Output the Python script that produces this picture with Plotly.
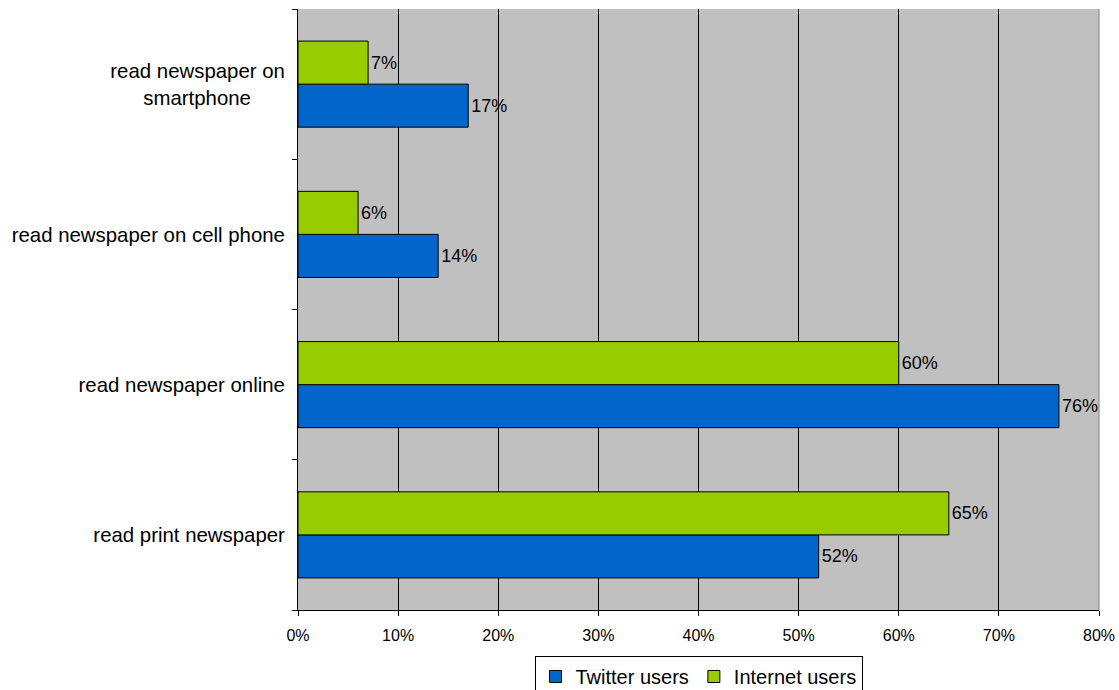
import plotly.graph_objects as go

categories = ["read print newspaper", "read newspaper online",
              "read newspaper on cell phone", "read newspaper on<br>smartphone"]
twitter = [52, 76, 14, 17]
internet = [65, 60, 6, 7]
x_ticks = [0, 10, 20, 30, 40, 50, 60, 70, 80]

FAM = "Liberation Sans, Arial, sans-serif"
label_font = dict(family=FAM, size=18, color="black")


def centered(label):
    # pad shorter lines so multi-line tick labels look centred
    lines = label.split("<br>")
    if len(lines) == 1:
        return label
    longest = max(len(l) for l in lines)
    out = []
    for l in lines:
        pad = int(round((longest - len(l)) * 0.9))
        out.append(l + "\u00a0" * pad)
    return "<br>".join(out)


fig = go.Figure()
fig.add_trace(go.Bar(
    y=categories, x=twitter, orientation="h", name="Twitter users",
    marker=dict(color="#0066CC", line=dict(color="black", width=1)),
    text=[f"{v}%" for v in twitter], textposition="outside",
    textfont=label_font, cliponaxis=False, constraintext="none"))
fig.add_trace(go.Bar(
    y=categories, x=internet, orientation="h", name="Internet users",
    marker=dict(color="#99CC00", line=dict(color="black", width=1)),
    text=[f"{v}%" for v in internet], textposition="outside",
    textfont=label_font, cliponaxis=False, constraintext="none"))

fig.update_layout(
    width=1119, height=690,
    margin=dict(l=298, r=20, t=9, b=80, autoexpand=False),
    barmode="group", bargap=0.427, bargroupgap=0,
    plot_bgcolor="#C0C0C0", paper_bgcolor="white",
    font=dict(family=FAM, size=16, color="black"),
    xaxis=dict(range=[0, 80], tickvals=x_ticks, ticktext=[f"{v}%" for v in x_ticks],
               tickfont=dict(family=FAM, size=16, color="black"),
               showgrid=True, gridcolor="black", gridwidth=1,
               showline=True, linecolor="black", ticks="outside", ticklen=5,
               tickcolor="black", zeroline=False, fixedrange=True,
               ticklabelstandoff=6),
    yaxis=dict(showline=True, linecolor="black", ticks="outside", ticklen=5,
               tickcolor="black", tickson="boundaries", showgrid=False,
               tickmode="array", tickvals=categories,
               ticktext=[centered(c) for c in categories],
               tickfont=dict(family=FAM, size=20.4, color="black"),
               ticklabelstandoff=8, fixedrange=True),
    legend=dict(orientation="h", x=0.5, xanchor="center",
                yref="container", y=(690 - 656) / 690, yanchor="top",
                bordercolor="black", borderwidth=1, bgcolor="white",
                font=dict(family=FAM, size=20, color="black"),
                traceorder="normal", itemwidth=30, tracegroupgap=0),
    showlegend=True,
)
fig.add_shape(type="line", xref="paper", yref="paper", x0=1, x1=1, y0=0, y1=1,
              line=dict(color="#808080", width=1))

fig.write_html("out.html")
